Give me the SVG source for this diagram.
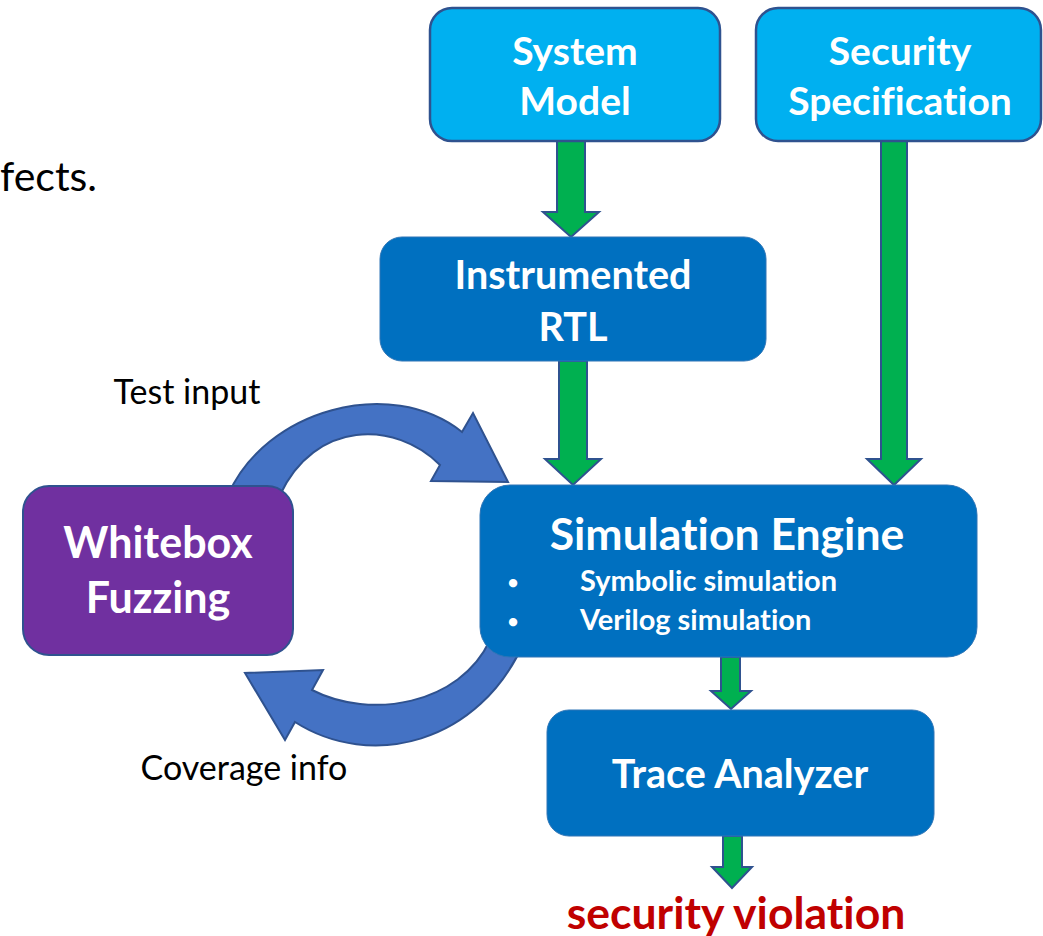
<svg xmlns="http://www.w3.org/2000/svg" width="1043" height="936" viewBox="0 0 1043 936">
<style>
.t{font-family:Lato,"Liberation Sans",sans-serif;font-weight:bold;fill:#fff;text-anchor:middle;font-variant-ligatures:none;font-feature-settings:"liga" 0,"clig" 0,"dlig" 0,"calt" 0}
.lbl{font-family:Lato,"Liberation Sans",sans-serif;fill:#000;font-size:34px;font-variant-ligatures:none;font-feature-settings:"liga" 0,"clig" 0,"dlig" 0,"calt" 0}
.garrow{fill:#00B050;stroke:#2F528F;stroke-width:2;stroke-linejoin:miter}
.barrow{fill:#4472C4;stroke:#2F528F;stroke-width:2}
.light{fill:#00B0F0;stroke:#2F528F;stroke-width:2.5}
.dark{fill:#0070C0;stroke:#2E75B6;stroke-width:1}
.purple{fill:#7030A0;stroke:#2F528F;stroke-width:2}
</style>
<rect width="1043" height="936" fill="#fff"/>
<text class="lbl" x="0" y="191" style="font-size:41px">fects.</text>
<g id="connectors">
<path class="barrow" d="M228,495 C265,410 390,375 462,432 L473,413 L508,482 L431,481 L440,465 C395,420 315,420 280,495 Z"/>
<path class="barrow" d="M525,640 C480,745 370,770 295,722 L285,740 L245,673 L323,670 L312,690 C370,720 460,705 490,640 Z"/>
<path class="garrow" d="M557,141 L585,141 L585,212 L599,212 L571,237 L543,212 L557,212 Z"/>
<path class="garrow" d="M559,361 L587,361 L587,459 L601,459 L573,485 L545,459 L559,459 Z"/>
<path class="garrow" d="M881,141 L907,141 L907,459 L921,459 L894,485 L867,459 L881,459 Z"/>
<path class="garrow" d="M721,657 L740,657 L740,691 L751,691 L731,709 L711,691 L721,691 Z"/>
<path class="garrow" d="M723,836 L742,836 L742,867 L752,867 L732,888 L712,867 L723,867 Z"/>
</g>
<g id="system-model">
<rect class="light" x="430" y="8" width="290" height="133" rx="22"/>
<text class="t" x="575" y="65" font-size="39">System</text>
<text class="t" x="575" y="115" font-size="39">Model</text>
</g>
<g id="security-spec">
<rect class="light" x="756" y="8" width="285" height="133" rx="22"/>
<text class="t" x="900" y="65" font-size="39">Security</text>
<text class="t" x="900" y="115" font-size="39">Specification</text>
</g>
<g id="instrumented-rtl">
<rect class="dark" x="380" y="237" width="386" height="124" rx="22"/>
<text class="t" x="573" y="289" font-size="39.5">Instrumented</text>
<text class="t" x="573" y="341" font-size="39.5">RTL</text>
</g>
<g id="simulation-engine">
<rect class="dark" x="480" y="485" width="497" height="172" rx="30"/>
<text class="t" x="727" y="550" font-size="44.5">Simulation Engine</text>
<text class="t" x="513" y="589" font-size="19">•</text>
<text class="t" x="513" y="628" font-size="19">•</text>
<text class="t" x="580" y="591" font-size="29" style="text-anchor:start">Symbolic simulation</text>
<text class="t" x="580" y="630" font-size="29" style="text-anchor:start">Verilog simulation</text>
</g>
<g id="trace-analyzer">
<rect class="dark" x="547" y="710" width="387" height="126" rx="22"/>
<text class="t" x="740" y="788" font-size="39.5">Trace Analyzer</text>
</g>
<g id="whitebox-fuzzing">
<rect class="purple" x="23" y="486" width="270" height="169" rx="26"/>
<text class="t" x="158" y="558" font-size="43">Whitebox</text>
<text class="t" x="158" y="613" font-size="43">Fuzzing</text>
</g>
<text class="lbl" x="187" y="404" text-anchor="middle">Test input</text>
<text class="lbl" x="244" y="780" text-anchor="middle">Coverage info</text>
<text class="t" x="736" y="929" font-size="44.5" style="fill:#C00000">security violation</text>
</svg>
